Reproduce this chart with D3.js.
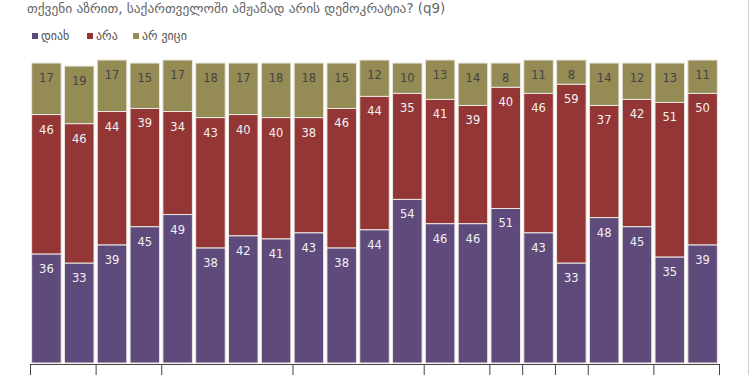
<!DOCTYPE html>
<html>
<head>
<meta charset="utf-8">
<script src="https://cdn.jsdelivr.net/npm/d3@7"></script>
<style>
  body { margin: 0; background: #fff; }
  svg { display: block; font-family: "DejaVu Sans", sans-serif; }
</style>
</head>
<body>
<svg id="drawing_region" width="750" height="375"></svg>
<script>
// answers: yes / no / don't know, one entry per wave
var yes   = [36, 33, 39, 45, 49, 38, 42, 41, 43, 38, 44, 54, 46, 46, 51, 43, 33, 48, 45, 35, 39];
var no    = [46, 46, 44, 39, 34, 43, 40, 40, 38, 46, 44, 35, 41, 39, 40, 46, 59, 37, 42, 51, 50];
var dunno = [17, 19, 17, 15, 17, 18, 17, 18, 18, 15, 12, 10, 13, 14,  8, 11,  8, 14, 12, 13, 11];
// how many bars belong to each group on the bottom axis
var groups = [2, 2, 4, 4, 2, 1, 1, 1, 2, 2];

var series_names = ["დიახ", "არა", "არ ვიცი"];
var colors = ["#5f4a7c", "#943636", "#958b55"];
var title = "თქვენი აზრით, საქართველოში ამჟამად არის დემოკრატია? (q9)";

var data = yes.map((d, i) => ({ i: i, yes: d, no: no[i], dunno: dunno[i] }));
var keys = ["yes", "no", "dunno"];

var svg = d3.select("#drawing_region");

var xscale = d3.scaleBand()
    .domain(d3.range(data.length))
    .range([30, 719])
    .paddingInner(0.1)
    .paddingOuter(0.05);

var yscale = d3.scaleLinear()
    .domain([0, 100])
    .range([363, 60]);

var stack = d3.stack().keys(keys)(data);

// title
svg.append("text")
    .attr("x", 27)
    .attr("y", 13)
    .attr("fill", "#666")
    .attr("font-size", "13.4px")
    .text(title);

// legend
var legend_x = [32, 87, 133];
var legend = svg.selectAll(".legend")
    .data(series_names)
    .enter()
    .append("g")
    .attr("transform", (d, i) => `translate(${legend_x[i]}, 33)`);
legend.append("rect")
    .attr("width", 6)
    .attr("height", 6)
    .attr("fill", (d, i) => colors[i]);
legend.append("text")
    .attr("x", 9)
    .attr("y", 7)
    .attr("fill", "#555")
    .attr("font-size", "12px")
    .text(d => d);

// bars
var layer = svg.selectAll(".layer")
    .data(stack)
    .enter()
    .append("g")
    .attr("fill", (d, i) => colors[i]);

layer.selectAll("rect")
    .data(d => d)
    .enter()
    .append("rect")
    .attr("x", d => xscale(d.data.i))
    .attr("y", d => yscale(d[1]))
    .attr("width", xscale.bandwidth())
    .attr("height", d => yscale(d[0]) - yscale(d[1]))
    .attr("stroke", "#ebe8e2")
    .attr("stroke-width", 1);

// value labels near the top of every segment
stack.forEach((s, k) => {
    svg.append("g")
        .selectAll("text")
        .data(s)
        .enter()
        .append("text")
        .attr("x", d => xscale(d.data.i) + xscale.bandwidth() / 2)
        .attr("y", d => yscale(d[1]) + 19)
        .attr("text-anchor", "middle")
        .attr("font-size", "11.5px")
        .attr("fill", k == 2 ? "#444" : "#f2f2f2")
        .text(d => d.data[s.key]);
});

// bottom axis with group separators
var bounds = [0];
groups.forEach(g => bounds.push(bounds[bounds.length - 1] + g));

var gscale = d3.scaleLinear()
    .domain([0, data.length])
    .range([30, 719]);

svg.append("g")
    .attr("transform", "translate(0, 364)")
    .call(d3.axisBottom(gscale).tickValues(bounds).tickSize(14).tickSizeOuter(0).tickFormat(""))
    .call(g => g.selectAll("path, line").attr("stroke", "#444"));

// frame edge on the right
svg.append("line")
    .attr("x1", 748.5).attr("x2", 748.5)
    .attr("y1", 0).attr("y2", 375)
    .attr("stroke", "#ccc");
</script>
</body>
</html>
